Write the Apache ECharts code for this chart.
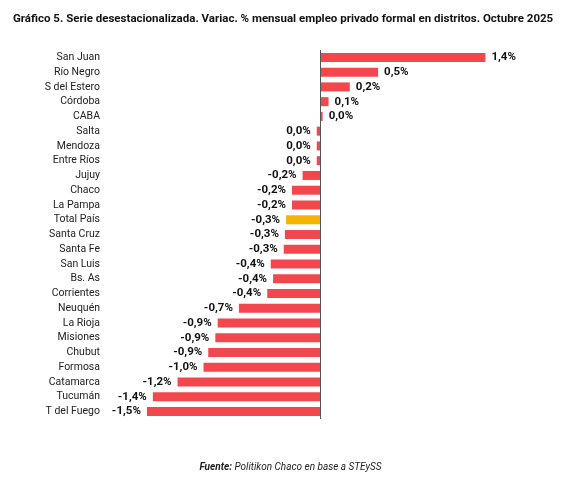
<!DOCTYPE html>
<html><head><meta charset="utf-8">
<script src="https://cdn.jsdelivr.net/npm/echarts@6/dist/echarts.min.js"></script>
<style>html,body{margin:0;background:#fff}#c{width:581px;height:487px}</style>
</head><body><div id="c"></div>
<script>
const provinces = ["San Juan","Río Negro","S del Estero","Córdoba","CABA","Salta","Mendoza","Entre Ríos","Jujuy","Chaco","La Pampa","Total País","Santa Cruz","Santa Fe","San Luis","Bs. As","Corrientes","Neuquén","La Rioja","Misiones","Chubut","Formosa","Catamarca","Tucumán","T del Fuego"];
const values = [1.4,0.49,0.25,0.07,0.02,-0.03,-0.03,-0.03,-0.15,-0.24,-0.24,-0.29,-0.3,-0.31,-0.42,-0.4,-0.45,-0.69,-0.87,-0.89,-0.95,-0.99,-1.21,-1.42,-1.47];
const labels = ["1,4%","0,5%","0,2%","0,1%","0,0%","0,0%","0,0%","0,0%","-0,2%","-0,2%","-0,2%","-0,3%","-0,3%","-0,3%","-0,4%","-0,4%","-0,4%","-0,7%","-0,9%","-0,9%","-0,9%","-1,0%","-1,2%","-1,4%","-1,5%"];
const highlight = "Total País";

const chart = echarts.init(document.getElementById("c"));
chart.setOption({
  animation: false,
  title: {
    text: "Gráfico 5. Serie desestacionalizada. Variac. % mensual empleo privado formal en distritos. Octubre 2025",
    left: 8, top: 8,
    textStyle: {fontFamily: "Roboto", fontSize: 11.5, fontWeight: "bold", color: "#111"}
  },
  graphic: [{
    type: "text", left: "center", top: 462,
    style: {
      text: "{b|Fuente:} Politikon Chaco en base a STEySS",
      font: "italic 10px Roboto", fill: "#222",
      rich: {b: {font: "italic bold 10px Roboto", fill: "#222"}}
    }
  }],
  grid: {left: 108, right: 72, top: 50, bottom: 68},
  xAxis: {type: "value", min: -1.8, max: 1.6, show: false},
  yAxis: {
    type: "category", inverse: true, data: provinces,
    axisLine: {show: false, onZero: false},
    axisTick: {show: false},
    axisLabel: {margin: 8, fontFamily: "Roboto", fontSize: 10.5, color: "#222"}
  },
  series: [{
    type: "bar", barWidth: 9,
    markLine: {
      silent: true, symbol: "none", label: {show: false},
      lineStyle: {color: "#555", width: 1, type: "solid"},
      data: [{xAxis: 0}]
    },
    data: values.map((v, i) => ({
      value: v,
      itemStyle: {color: provinces[i] === highlight ? "#F5B400" : "#F2474C"},
      label: {show: true, position: v >= 0 ? "right" : "left", distance: 6,
        formatter: () => labels[i],
        fontFamily: "Roboto", fontSize: 11.5, fontWeight: "bold", color: "#111"}
    }))
  }]
});
</script></body></html>
